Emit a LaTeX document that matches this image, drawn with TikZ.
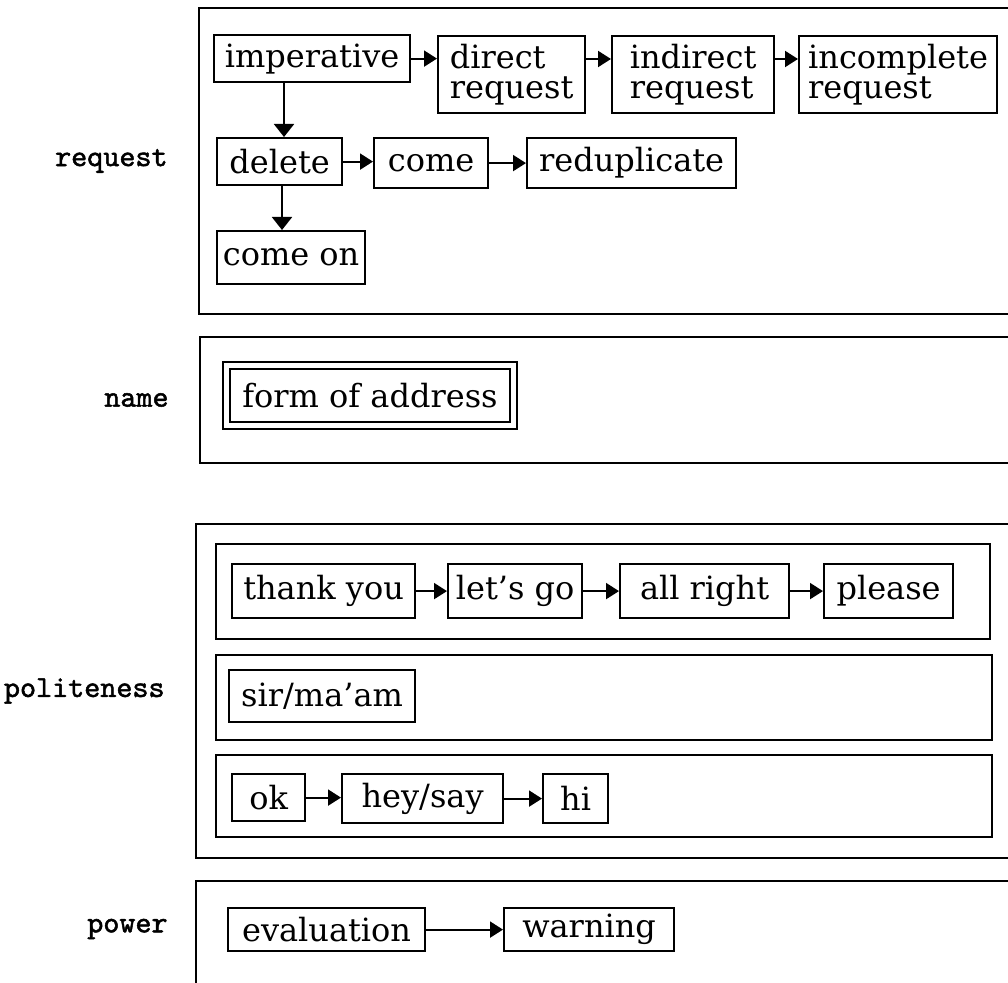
\documentclass[tikz,border=0pt]{standalone}
\usepackage{fontspec}
\setmainfont{DejaVu Serif}
\newfontfamily\labelfont{lmmono10-regular.otf}[FakeBold=1.6]
\usepackage{tikz}
\usetikzlibrary{positioning, arrows.meta}

\begin{document}
\begin{tikzpicture}[x=0.5pt, y=-0.5pt,
    frame/.style={draw, line width=1pt, anchor=north west, inner sep=0pt},
    word/.style={draw, line width=1.1pt, anchor=north west, inner sep=0pt,
                 align=left, font=\fontsize{16}{15}\selectfont},
    group/.style={inner sep=0pt, font=\labelfont\fontsize{15.3}{17}\selectfont},
    link/.style={line width=1pt, -{Triangle[length=6.5pt, width=8pt]}},
    drop/.style={line width=1pt, -{Triangle[length=6.5pt, width=10pt]}}]
  \clip (0,0) rectangle (1008,983);

  % request
  \node[frame, minimum width=416pt, minimum height=153pt] (reqframe) at (198,7) {};
  \node[group, left=15pt of reqframe.west] (reqlabel) {request};
  \node[word, minimum width=98pt, minimum height=23.5pt] (imp) at (213,34) {imperative};
  \node[word, minimum width=73.5pt, minimum height=38.5pt] (dir) at (437,35) {direct\\request};
  \node[word, minimum width=81pt, minimum height=38.5pt] (ind) at (611,35) {indirect\\request};
  \node[word, minimum width=99pt, minimum height=38.5pt] (inc) at (798,35) {incomplete\\request};
  \node[word, minimum width=62.5pt, minimum height=23.5pt] (del) at (216,137) {delete};
  \node[word, minimum width=57pt, minimum height=25pt] (come) at (373,137) {come};
  \node[word, minimum width=104.5pt, minimum height=25pt] (redup) at (526,137) {reduplicate};
  \node[word, minimum width=74pt, minimum height=26.5pt] (comeon) at (216,230) {come on};
  \draw[link] (imp.east) -- (imp.east -| dir.west);
  \draw[link] ([yshift=-12pt]dir.north east) -- ([yshift=-12pt]ind.north west);
  \draw[link] ([yshift=-12pt]ind.north east) -- ([yshift=-12pt]inc.north west);
  \draw[drop] ([xshift=35.5pt]imp.south west) -- ([xshift=34pt]del.north west);
  \draw[link] (del.east) -- (del.east -| come.west);
  \draw[link] (come.east) -- (come.east -| redup.west);
  \draw[drop] ([xshift=33pt]del.south west) -- ([xshift=33pt]comeon.north west);

  % name
  \node[frame, minimum width=415.5pt, minimum height=63pt] (nameframe) at (199,336) {};
  \node[group, left=15pt of nameframe.west] (namelabel) {name};
  \node[word, double, double distance=2.5pt, line width=1pt,
        minimum width=143.5pt, minimum height=30.25pt] (addr) at (225.5,364.5) {form of address};

  % politeness
  \node[frame, minimum width=417.5pt, minimum height=167pt] (politeframe) at (195,523) {};
  \node[group, left=15pt of politeframe.west] (politelabel) {politeness};
  \node[frame, minimum width=387pt, minimum height=47.5pt] (rowa) at (215,543) {};
  \node[frame, minimum width=388pt, minimum height=42.5pt] (rowb) at (215,654) {};
  \node[frame, minimum width=388pt, minimum height=41pt] (rowc) at (215,754) {};
  \node[word, minimum width=91.5pt, minimum height=27pt] (thank) at (231,563) {thank you};
  \node[word, minimum width=67pt, minimum height=27pt] (letsgo) at (447,563) {let's go};
  \node[word, minimum width=84.5pt, minimum height=27pt] (allright) at (619,563) {all right};
  \node[word, minimum width=64.5pt, minimum height=27pt] (please) at (823,563) {please};
  \node[word, minimum width=93pt, minimum height=26pt] (sir) at (228,669) {sir/ma'am};
  \node[word, minimum width=36.5pt, minimum height=23.5pt] (ok) at (231,773) {ok};
  \node[word, minimum width=80.5pt, minimum height=24.5pt] (hey) at (341,773) {hey/say};
  \node[word, minimum width=32.5pt, minimum height=24.5pt] (hi) at (542,773) {hi};
  \draw[link] (thank.east) -- (thank.east -| letsgo.west);
  \draw[link] (letsgo.east) -- (letsgo.east -| allright.west);
  \draw[link] (allright.east) -- (allright.east -| please.west);
  \draw[link] (ok.east) -- (ok.east -| hey.west);
  \draw[link] (hey.east) -- (hey.east -| hi.west);

  % power
  \node[frame, minimum width=417.5pt, minimum height=60pt] (powframe) at (195,880) {};
  \node[group, anchor=east] (powlabel) at (168,929) {power};
  \node[word, minimum width=98.5pt, minimum height=21.5pt] (eval) at (227,907) {evaluation};
  \node[word, minimum width=85pt, minimum height=21.5pt] (warn) at (503,907) {warning};
  \draw[link] (eval.east) -- (eval.east -| warn.west);
\end{tikzpicture}
\end{document}
